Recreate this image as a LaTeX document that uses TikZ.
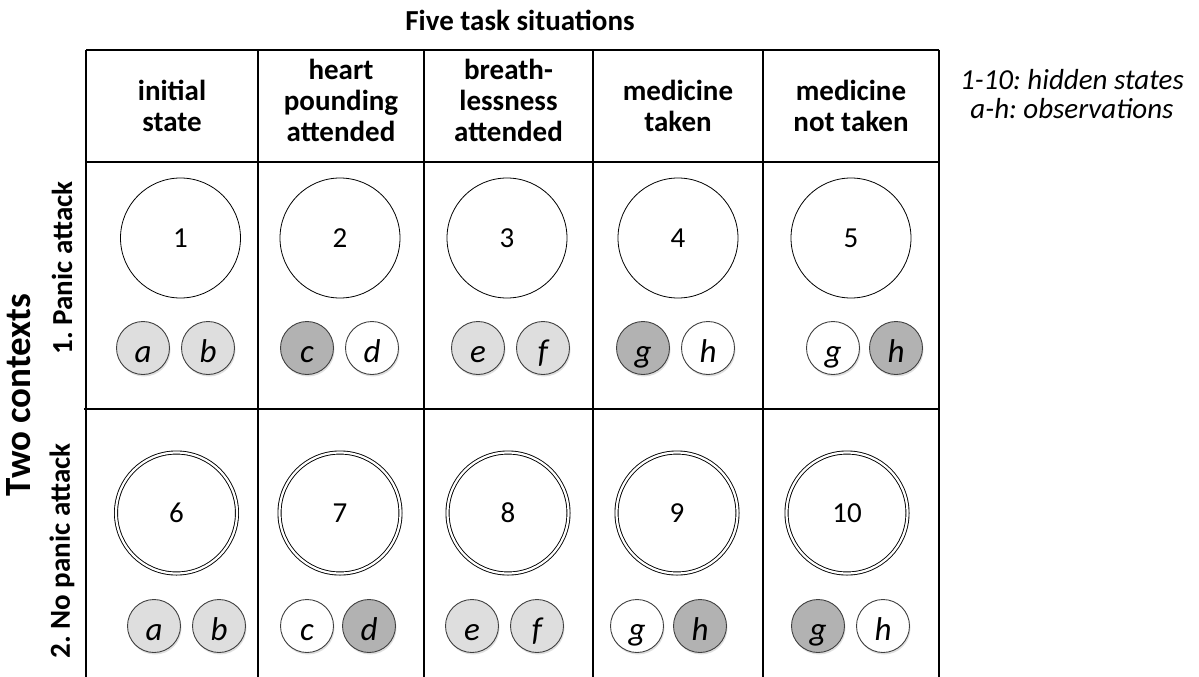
\documentclass[tikz,border=0pt]{standalone}
\usepackage{fontspec}
\setmainfont{Carlito}
\usetikzlibrary{positioning,shadows}

\definecolor{obslight}{gray}{0.87}
\definecolor{obsdark}{gray}{0.70}

\tikzset{
  txt/.style={font=\fontsize{29}{31}\selectfont},
  headtxt/.style={txt,font=\fontsize{29}{31}\selectfont\bfseries,align=center},
  grid line/.style={line width=2.6pt,black},
  hidden/.style={circle,draw,line width=0.8pt,minimum size=120pt,inner sep=0pt,txt},
  hiddenno/.style={circle,draw,line width=0.9pt,double,double distance=2.2pt,minimum size=121pt,inner sep=0pt,txt},
  obs/.style={circle,draw=black!75,line width=0.9pt,minimum size=53pt,inner sep=0pt,
    font=\fontsize{33}{33}\selectfont\itshape,text height=28pt,text depth=0pt,
    drop shadow={shadow xshift=1pt,shadow yshift=-2pt,opacity=.25}},
  on/.style={obs,fill=obsdark},
  mid/.style={obs,fill=obslight},
  off/.style={obs,fill=white},
}

\begin{document}
\frenchspacing
\begin{tikzpicture}[x=1pt,y=-1pt]
  \useasboundingbox[fill=white] (0,0) rectangle (1199,677);

  % grid corners
  \coordinate (tl) at (86,50);
  \coordinate (tr) at (939,50);
  \foreach \xx [count=\i] in {86,258,424,593,763,939}
    \coordinate (c\i) at (\xx,0);

  % table lines
  \draw[grid line] (86,50) -- (939,50);
  \draw[grid line] (86,162) -- (939,162);
  \draw[grid line] (84,409) -- (939,409);
  \foreach \i in {1,...,6}
    \draw[grid line] (c\i |- tl) -- ++(0,627);

  % headings
  \node[headtxt] (title) at (520,20) {Five task situations};
  \foreach \txt/\xx/\yy [count=\i] in {initial\\state/172/106,heart\\pounding\\attended/341/100,breath-\\lessness\\attended/508.5/100,medicine\\taken/678/106,medicine\\not taken/851/106}
    \node[headtxt] (head\i) at (\xx,\yy) {\txt};

  \node[headtxt,font=\fontsize{37}{37}\selectfont\bfseries,rotate=90] (ctx) at (19,395) {Two contexts};
  \node[headtxt,rotate=90] (ctx1) at (62,268) {1. Panic attack};
  \node[headtxt,rotate=90] (ctx2) at (62,551) {2. No panic attack};

  \node[txt,font=\fontsize{29}{29}\selectfont\itshape,align=center] (legend) at (1072,94)
    {1-10: hidden states\\a-h: observations};

  % hidden states
  \foreach \xx/\n in {180.5/1,340/2,507/3,678/4,851/5}
    \node[hidden] (h\n) at (\xx,238) {\n};
  \foreach \xx/\n in {176.5/6,340/7,508/8,677/9,847/10}
    \node[hiddenno] (h\n) at (\xx,513) {\n};

  % observations, context 1
  \foreach \xx/\o/\st [count=\k] in {143/a/mid,208/b/mid,307/c/on,372/d/off,478/e/mid,543/f/mid,643/g/on,708/h/off,833/g/off,896/h/on}
    \node[\st] (o1-\k) at (\xx,348) {\o};
  % observations, context 2
  \foreach \xx/\o/\st [count=\k] in {154/a/mid,219/b/mid,307/c/off,369/d/on,472/e/mid,537/f/mid,637/g/off,700/h/on,818/g/on,883/h/off}
    \node[\st] (o2-\k) at (\xx,626) {\o};
\end{tikzpicture}
\end{document}
